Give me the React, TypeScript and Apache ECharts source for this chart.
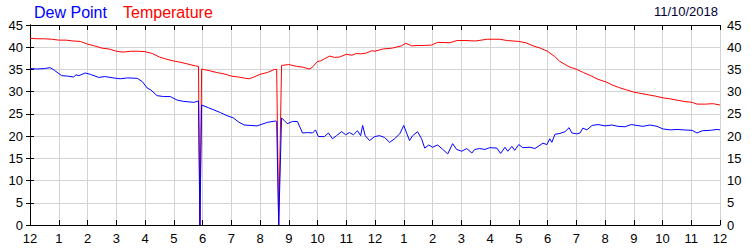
import React, { useEffect, useRef } from "react";
import * as echarts from "echarts";

const tempHours = [0,0.25,0.5,0.75,1,1.25,1.5,1.75,2,2.25,2.5,2.75,3,3.25,3.5,3.75,4,4.25,4.5,4.75,5,5.25,5.5,5.75,5.86,5.91,5.97,6.25,6.5,6.75,7,7.25,7.5,7.63,7.75,8,8.25,8.5,8.58,8.65,8.75,9,9.27,9.5,9.7,9.79,10,10.1,10.42,10.6,10.77,11,11.2,11.35,11.5,11.7,11.88,12,12.27,12.6,12.92,13.07,13.28,13.5,13.75,13.97,14.18,14.6,14.85,15.2,15.5,15.9,16.34,16.6,17,17.25,17.5,17.75,18,18.25,18.43,18.75,19.02,19.25,19.5,19.75,20.07,20.25,20.5,20.75,21,21.25,21.5,21.75,22.02,22.25,22.5,22.75,23.03,23.2,23.5,23.75,24];
const temperature = [42.0,41.9,41.9,41.8,41.6,41.6,41.4,41.3,40.7,40.3,39.8,39.6,39.1,38.9,39.1,39.1,39.0,38.6,37.8,37.3,36.9,36.6,36.2,35.8,35.7,0,35.1,34.7,34.3,34.0,33.5,33.3,33.0,32.9,33.2,33.9,34.3,35.0,35.0,0,35.9,36.1,35.7,35.5,35.1,35.3,36.8,36.9,38.0,37.7,37.8,38.4,38.2,38.6,38.5,38.7,39.2,39.1,39.6,39.8,40.3,40.9,40.3,40.4,40.4,40.5,41.1,41.0,41.5,41.5,41.4,41.8,41.8,41.5,41.3,41.0,40.3,39.8,39.1,37.9,36.8,35.6,35.0,34.3,33.6,32.8,32.1,31.5,30.9,30.4,29.9,29.6,29.3,29.0,28.6,28.4,28.1,27.8,27.6,27.2,27.2,27.3,27.0];

const dewHours = [0,0.25,0.5,0.7,0.85,1.1,1.3,1.52,1.6,1.7,1.92,2.1,2.39,2.6,3,3.14,3.4,3.73,3.9,4.08,4.2,4.42,4.65,4.88,5.12,5.35,5.7,5.86,5.91,5.97,6.2,6.62,6.85,7.07,7.25,7.45,7.9,8.26,8.54,8.58,8.65,8.75,8.95,9.13,9.3,9.48,9.65,9.83,9.93,10.03,10.24,10.38,10.52,10.66,10.84,10.98,11.11,11.25,11.39,11.5,11.57,11.66,11.81,11.99,12.16,12.33,12.51,12.68,12.86,13.0,13.2,13.31,13.48,13.62,13.73,13.87,14.0,14.18,14.36,14.53,14.7,14.84,15.02,15.19,15.37,15.47,15.64,15.82,15.99,16.24,16.37,16.52,16.62,16.76,16.86,17.0,17.14,17.39,17.56,17.84,17.98,18.08,18.15,18.26,18.43,18.61,18.75,18.85,19.02,19.13,19.23,19.37,19.55,19.76,20.0,20.24,20.45,20.7,20.91,21.11,21.32,21.57,21.81,22.02,22.27,22.51,22.72,23.03,23.2,23.38,23.66,23.9,24];
const dewPoint = [35.2,35.1,35.2,35.4,34.8,33.6,33.5,33.3,33.8,33.6,34.2,33.9,33.2,33.4,33.0,32.9,33.1,33.0,32.3,30.8,30.4,29.1,28.9,28.9,28.1,27.8,27.6,27.9,0,27.0,26.4,25.3,24.6,24.1,23.2,22.5,22.3,23.1,23.4,23.3,0,24.1,22.8,23.3,23.3,20.7,20.8,20.7,21.4,19.9,19.9,20.7,19.4,20.1,21.0,20.3,20.8,20.3,21.2,20.1,22.4,20.1,19.0,19.9,20.1,19.7,18.6,19.4,20.5,22.4,19.0,20.1,21.0,19.4,17.3,18.0,17.5,18.0,17.0,16.0,18.3,17.0,16.6,17.2,16.2,17.0,17.2,17.0,17.4,17.3,16.1,17.5,16.6,17.7,16.8,18.1,17.4,17.5,17.2,18.4,18.1,19.4,18.6,20.4,20.6,21.0,21.9,20.7,20.5,20.7,21.8,21.4,22.4,22.6,22.3,22.5,22.2,22.1,22.6,22.4,22.2,22.5,22.2,21.6,21.4,21.5,21.4,21.3,20.7,21.2,21.3,21.5,21.4];

const hourLabels = ["12","1","2","3","4","5","6","7","8","9","10","11","12","1","2","3","4","5","6","7","8","9","10","11","12"];
const dateText = "11/10/2018";
const FONT = "'Liberation Sans', Arial, sans-serif";

export default function App() {
  const ref = useRef<HTMLDivElement>(null);
  useEffect(() => {
    if (!ref.current) return;
    const chart = echarts.init(ref.current, null, { renderer: "svg" });
    const gridColor = "#d3d3d3";
    const yAxisBase = {
      type: "value",
      min: 0,
      max: 45,
      interval: 5,
      axisLine: { show: true, lineStyle: { color: "#000", width: 1 } },
      axisTick: { show: true, inside: false, length: 4, lineStyle: { color: "#000" } },
      axisLabel: { fontSize: 13, color: "#000", margin: 7, fontFamily: FONT },
    };
    chart.setOption({
      animation: false,
      grid: { left: 30, right: 30, top: 25, bottom: 25, containLabel: false },
      graphic: [
        { type: "text", left: 34, top: 4, style: { text: "Dew Point", fill: "#0000ff", font: `16px ${FONT}` } },
        { type: "text", left: 123, top: 4, style: { text: "Temperature", fill: "#ff0000", font: `16px ${FONT}` } },
        { type: "text", right: 32, top: 5, style: { text: dateText, fill: "#000033", font: `13px ${FONT}` } },
      ],
      xAxis: [
        {
          type: "value",
          min: 0,
          max: 24,
          interval: 1,
          position: "bottom",
          axisLine: { show: true, onZero: false, lineStyle: { color: "#000", width: 1 } },
          axisTick: { show: true, inside: true, length: 5, lineStyle: { color: "#000" } },
          axisLabel: {
            fontSize: 13,
            color: "#000",
            margin: 7,
            fontFamily: FONT,
            formatter: (v: number) => hourLabels[Math.round(v)] ?? "",
          },
          splitLine: { show: true, lineStyle: { color: gridColor, width: 1 } },
        },
        {
          type: "value",
          min: 0,
          max: 24,
          interval: 1,
          position: "top",
          axisLine: { show: true, onZero: false, lineStyle: { color: "#000", width: 1 } },
          axisTick: { show: true, inside: true, length: 5, lineStyle: { color: "#000" } },
          axisLabel: { show: false },
          splitLine: { show: false },
        },
      ],
      yAxis: [
        { ...yAxisBase, position: "left", splitLine: { show: true, lineStyle: { color: gridColor, width: 1 } } },
        { ...yAxisBase, position: "right", splitLine: { show: false } },
      ],
      series: [
        {
          name: "Temperature",
          type: "line",
          xAxisIndex: 0,
          yAxisIndex: 0,
          showSymbol: false,
          symbol: "none",
          lineStyle: { color: "#ff0000", width: 1 },
          data: tempHours.map((h, i) => [h, temperature[i]]),
        },
        {
          name: "Dew Point",
          type: "line",
          xAxisIndex: 0,
          yAxisIndex: 0,
          showSymbol: false,
          symbol: "none",
          lineStyle: { color: "#0000ff", width: 1 },
          data: dewHours.map((h, i) => [h, dewPoint[i]]),
        },
      ],
    });
    return () => chart.dispose();
  }, []);
  return (
    <div
      ref={ref}
      style={{ position: "absolute", left: 0, top: 0, width: 750, height: 250, background: "#fff" }}
    />
  );
}
